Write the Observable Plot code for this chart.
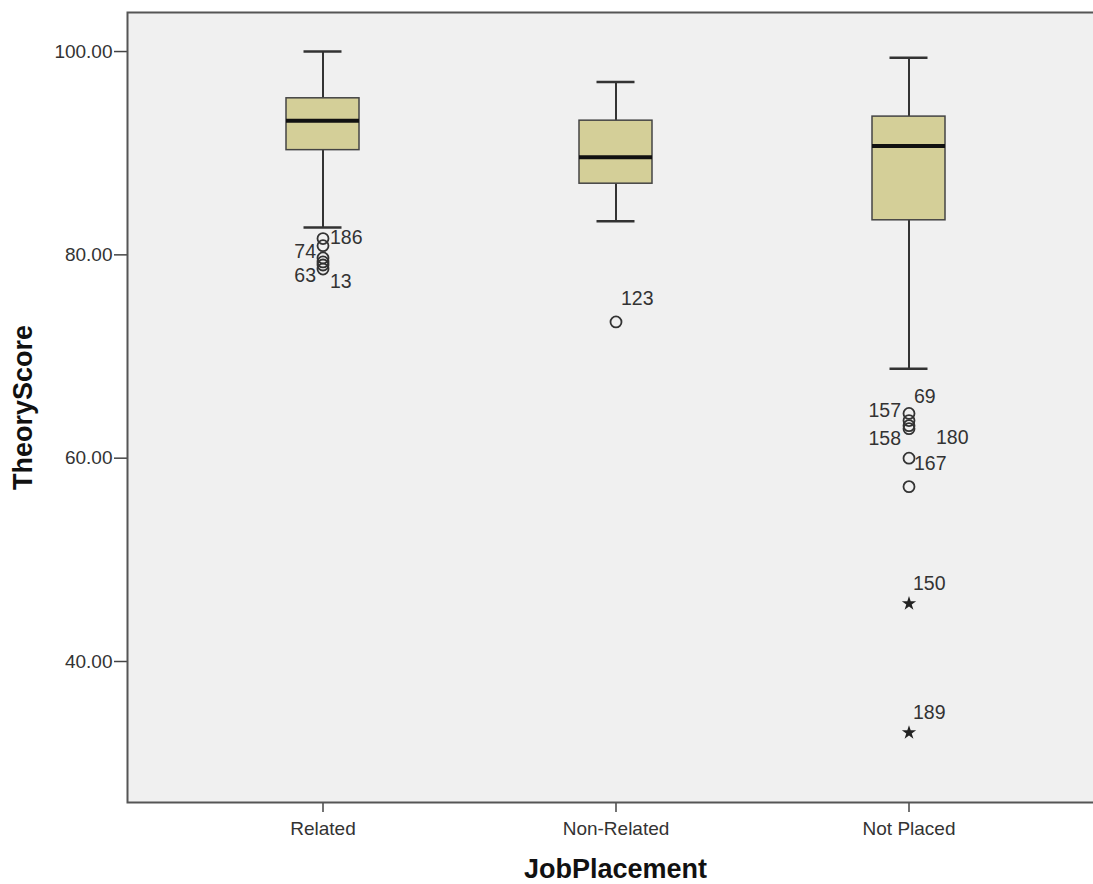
<!DOCTYPE html>
<html>
<head>
<meta charset="utf-8">
<script src="https://cdn.jsdelivr.net/npm/d3@7"></script>
<script src="https://cdn.jsdelivr.net/npm/@observablehq/plot@0.6"></script>
<style>
  html, body { margin: 0; padding: 0; background: #fff; }
  #chart { width: 1093px; height: 884px; overflow: hidden; }
</style>
</head>
<body>
<div id="chart"></div>
<script>
// ---- data ----
const groups = ["Related", "Non-Related", "Not Placed"];
const whiskerHigh = [100.0, 97.0, 99.4];
const q3 = [95.4, 93.2, 93.6];
const median = [93.2, 89.6, 90.7];
const q1 = [90.3, 87.0, 83.4];
const whiskerLow = [82.7, 83.3, 68.8];

const outlierGroup = ["Related", "Related", "Related", "Related", "Related", "Related",
  "Non-Related",
  "Not Placed", "Not Placed", "Not Placed", "Not Placed", "Not Placed", "Not Placed",
  "Not Placed", "Not Placed"];
const outlierValue = [81.6, 80.9, 79.7, 79.3, 79.0, 78.6,
  73.4,
  64.4, 63.7, 63.2, 62.9, 60.0, 57.2,
  45.7, 33.0];
const outlierId = ["186", "", "74", "", "63", "13",
  "123",
  "69", "157", "180", "158", "167", "",
  "150", "189"];
const outlierKind = ["o", "o", "o", "o", "o", "o",
  "o",
  "o", "o", "o", "o", "o", "o",
  "*", "*"];

const yTicks = [40, 60, 80, 100];

// label placement (styling, kept apart from the data)
const labelPlace = {
  "186": [7, -1, "start"], "74": [-7, -6, "end"], "63": [-7, 11, "end"], "13": [7, 13, "start"],
  "123": [5, -23, "start"],
  "69": [5, -17, "start"], "157": [-8, -10, "end"], "180": [27, 12, "start"],
  "158": [-8, 10, "end"], "167": [5, 6, "start"],
  "150": [4, -20, "start"], "189": [4, -20, "start"]
};

// ---- tables built from the arrays ----
const boxes = groups.map((g, i) => ({
  g, hi: whiskerHigh[i], q3: q3[i], med: median[i], q1: q1[i], lo: whiskerLow[i]
}));
const outliers = outlierValue.map((v, i) => ({
  g: outlierGroup[i], v, id: outlierId[i], kind: outlierKind[i]
}));

const font = "'Liberation Sans', Arial, sans-serif";
const ink = "#333";

const labelMarks = outliers.filter(d => d.id).map(d => {
  const [dx, dy, anchor] = labelPlace[d.id];
  return Plot.text([d], {
    x: "g", y: "v", text: "id", dx, dy, textAnchor: anchor,
    fontSize: 19.5, fill: "#333", fontFamily: font
  });
});

const chart = Plot.plot({
  width: 1103,
  height: 884,
  marginLeft: 127,
  marginRight: 0,
  marginTop: 12,
  marginBottom: 82,
  style: { background: "#fff", fontFamily: font, color: ink, maxWidth: "none" },
  x: { type: "band", domain: groups, paddingInner: 0.751, paddingOuter: 0.541, axis: null },
  y: { domain: [26.13, 103.84], axis: null },
  marks: [
    Plot.frame({ fill: "#f0f0f0" }),
    Plot.axisY({
      ticks: yTicks, tickFormat: d => d.toFixed(2), tickSize: 13, tickPadding: 2,
      label: null, fontSize: 19, stroke: "#444", fill: "#333", strokeWidth: 1.5
    }),
    Plot.axisX({
      tickSize: 10, tickPadding: 9, label: null, fontSize: 19,
      stroke: "#444", fill: "#333", strokeWidth: 1.5
    }),
    // whiskers
    Plot.ruleX(boxes, { x: "g", y1: "q3", y2: "hi", stroke: ink, strokeWidth: 2 }),
    Plot.ruleX(boxes, { x: "g", y1: "lo", y2: "q1", stroke: ink, strokeWidth: 2 }),
    Plot.tickY(boxes, { x: "g", y: "hi", stroke: ink, strokeWidth: 2.5, insetLeft: 17.5, insetRight: 17.5 }),
    Plot.tickY(boxes, { x: "g", y: "lo", stroke: ink, strokeWidth: 2.5, insetLeft: 17.5, insetRight: 17.5 }),
    // boxes
    Plot.barY(boxes, { x: "g", y1: "q1", y2: "q3", fill: "#d4cf98", stroke: "#444", strokeWidth: 1.5 }),
    Plot.tickY(boxes, { x: "g", y: "med", stroke: "#111", strokeWidth: 4 }),
    // outliers
    Plot.dot(outliers.filter(d => d.kind === "o"), {
      x: "g", y: "v", r: 5.5, stroke: ink, strokeWidth: 1.8, fill: "none"
    }),
    Plot.dot(outliers.filter(d => d.kind === "*"), {
      x: "g", y: "v", symbol: "star", r: 4.5, fill: "#222", stroke: "none"
    }),
    ...labelMarks,
    // axis titles
    Plot.text(["TheoryScore"], {
      frameAnchor: "left", textAnchor: "middle", dx: -104, rotate: -90, fontSize: 27, fontWeight: "bold",
      fill: "#111", fontFamily: font
    }),
    Plot.text(["JobPlacement"], {
      frameAnchor: "bottom", dy: 75, fontSize: 27, fontWeight: "bold",
      fill: "#111", fontFamily: font
    }),
    Plot.frame({ stroke: "#555", strokeWidth: 2 })
  ]
});
document.getElementById("chart").appendChild(chart);
</script>
</body>
</html>
